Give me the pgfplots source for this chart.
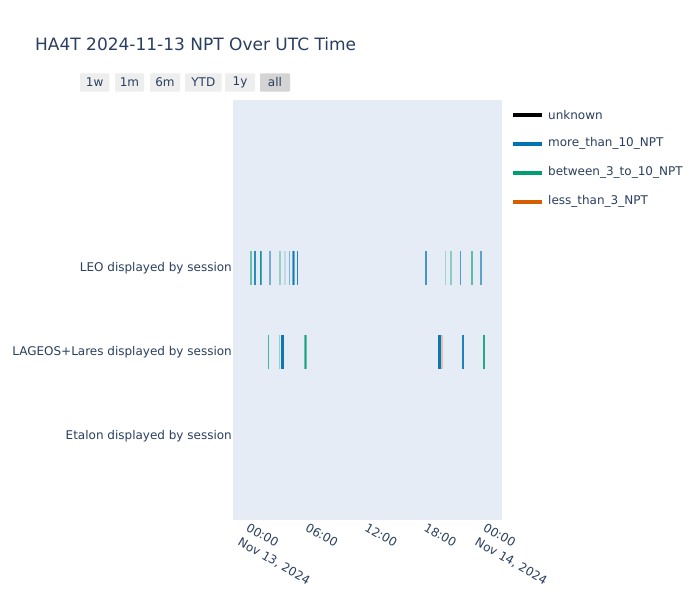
\documentclass[border=0pt]{standalone}
\usepackage{pgfplots}
\pgfplotsset{compat=1.18}
\usepackage{fontspec}
\setmainfont{DejaVu Sans}
\definecolor{txt}{HTML}{2A3F5F}
\definecolor{bg}{HTML}{E5ECF6}
\definecolor{cblue}{HTML}{0072B2}
\definecolor{cgreen}{HTML}{009E73}
\definecolor{corange}{HTML}{D55E00}
\definecolor{btn}{HTML}{EEEEEE}
\definecolor{btnact}{HTML}{D4D4D4}
% \seg{start h}{end h}{ylo}{yhi}{colour}{opacity}
\newcommand{\seg}[6]{\addplot[fill=#5, fill opacity=#6, draw=none] coordinates {(#1,#3) (#2,#3) (#2,#4) (#1,#4)} --cycle;}
\newcommand{\leo}[4]{\seg{#1}{#2}{1.8}{2.2}{#3}{#4}}
\newcommand{\lag}[4]{\seg{#1}{#2}{0.8}{1.2}{#3}{#4}}
\begin{document}
\begin{tikzpicture}
\useasboundingbox (0,0) rectangle (700pt,-600pt);
\fill[white] (0,0) rectangle (700pt,-600pt);
% title
\node[anchor=base west, inner sep=0pt, text=txt, font=\fontsize{17}{20}\selectfont] at (35pt,-50pt) {HA4T 2024-11-13 NPT Over UTC Time};
% range selector buttons
\foreach \a/\b/\t/\c in {80/109.3/1w/btn, 115/144/1m/btn, 150/180/6m/btn, 185/221.7/YTD/btn, 225/255/1y/btn, 260/290/all/btnact}{
  \fill[\c, rounded corners=1pt] (\a pt,-73.3pt) rectangle (\b pt,-91.7pt);
  \node[text=txt, font=\fontsize{12}{14}\selectfont, inner sep=0pt] at ({(\a+\b)/2*1pt},-82.5pt) {\t};
}
\begin{axis}[
  at={(233pt,-520pt)}, anchor=south west, scale only axis,
  width=269pt, height=420pt,
  xmin=-1.72, xmax=25.52, ymin=-1, ymax=4,
  axis background/.style={fill=bg},
  axis line style={draw=none},
  major tick length=0pt,
  xtick={0,6,12,18,24},
  xticklabels={{00:00\\Nov 13, 2024},{06:00},{12:00},{18:00},{00:00\\Nov 14, 2024}},
  xticklabel style={rotate=-30, anchor=north west, align=left, inner sep=0pt,
    font=\fontsize{12}{16.5}\selectfont, text=txt, xshift=1pt, yshift=-2pt},
  ytick={0,1,2},
  yticklabels={Etalon displayed by session, LAGEOS+Lares displayed by session, LEO displayed by session},
  yticklabel style={font=\fontsize{12}{14}\selectfont, text=txt, inner sep=0pt, xshift=-1pt},
]
% LEO displayed by session
\leo{-0.02}{0.16}{cgreen}{0.55}
\leo{0.44}{0.60}{cblue}{0.8}
\leo{0.98}{1.12}{cblue}{0.85}
\leo{1.08}{1.22}{cgreen}{0.7}
\leo{1.95}{2.12}{cblue}{0.5}
\leo{2.96}{3.12}{cgreen}{0.35}
\leo{3.46}{3.62}{cblue}{0.15}
\leo{3.90}{4.06}{cblue}{0.45}
\leo{4.26}{4.42}{cblue}{0.5}
\leo{4.36}{4.50}{cblue}{0.85}
\leo{4.46}{4.60}{cblue}{0.5}
\leo{4.71}{4.87}{cblue}{0.85}
\leo{17.77}{17.93}{cblue}{0.7}
\leo{19.70}{19.86}{cgreen}{0.3}
\leo{20.27}{20.43}{cgreen}{0.4}
\leo{21.22}{21.38}{cblue}{0.65}
\leo{22.40}{22.56}{cgreen}{0.6}
\leo{23.34}{23.50}{cblue}{0.6}
% LAGEOS+Lares displayed by session
\lag{1.78}{1.94}{cgreen}{0.7}
\lag{2.90}{3.07}{cgreen}{0.35}
\lag{3.12}{3.46}{cblue}{0.95}
\lag{5.52}{5.74}{cgreen}{0.55}
\lag{5.58}{5.70}{cgreen}{0.8}
\lag{19.02}{19.38}{cblue}{0.95}
\lag{19.38}{19.50}{corange}{0.3}
\lag{21.45}{21.69}{cblue}{0.55}
\lag{21.51}{21.63}{cblue}{0.7}
\lag{23.58}{23.82}{cgreen}{0.55}
\lag{23.62}{23.76}{cgreen}{0.7}
\end{axis}
% legend
\foreach \y/\c/\t in {115/black/unknown, 143.5/cblue/more\_than\_10\_NPT, 172.5/cgreen/between\_3\_to\_10\_NPT, 201.5/corange/less\_than\_3\_NPT}{
  \draw[\c, line width=4pt] (513pt,-\y pt) -- (542pt,-\y pt);
  \node[anchor=west, inner sep=0pt, text=txt, font=\fontsize{12}{14}\selectfont] at (548pt,-\y pt) {\t};
}
\end{tikzpicture}
\end{document}
